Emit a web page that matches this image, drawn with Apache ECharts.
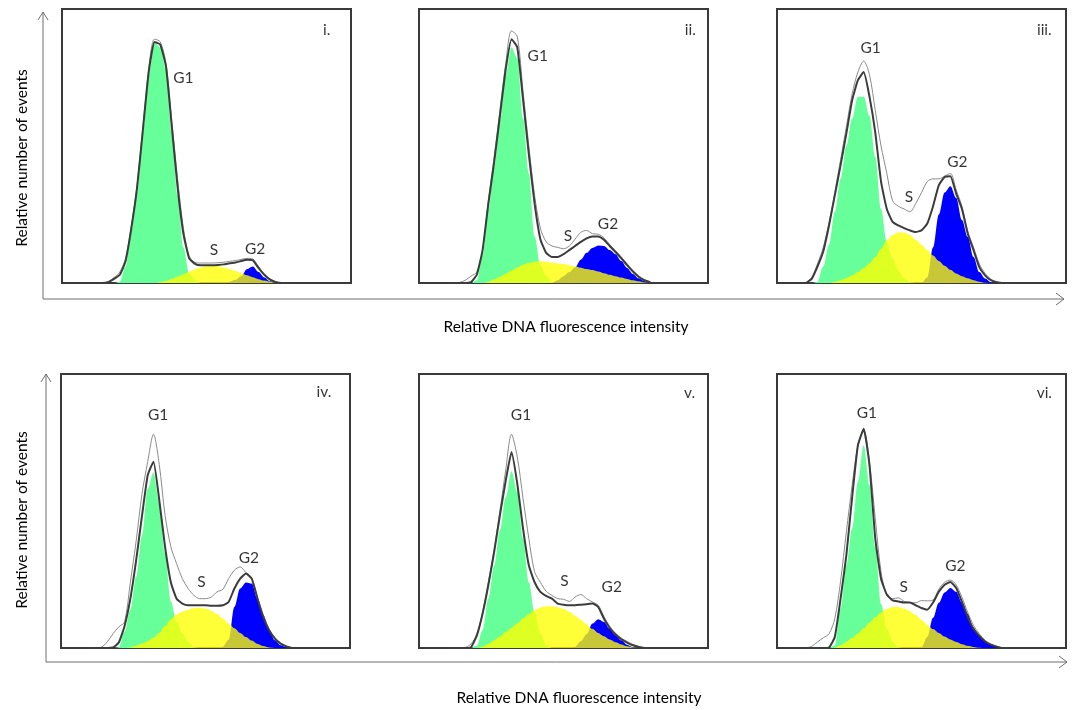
<!DOCTYPE html>
<html>
<head>
<meta charset="utf-8">
<script src="https://cdn.jsdelivr.net/npm/echarts@6/dist/echarts.min.js"></script>
<style>
  html, body { margin: 0; padding: 0; background: #fff; }
  #main { width: 1078px; height: 710px; }
</style>
</head>
<body>
<div id="main"></div>
<script>
// DNA content bins (relative fluorescence, 0-100 across each panel)
const bins = [10, 12, 14, 16, 18, 20, 22, 24, 26, 28, 30, 32, 34, 36, 38, 40, 42, 44, 46, 48, 50, 52, 54, 56, 58, 60, 62, 64, 66, 68, 70, 72, 74, 76, 78, 80]

// panel i.
const g1I = [0, 0, 0, 0, 0, 0.5, 6, 19, 33, 55, 76, 88, 86, 78, 55, 32, 13, 3.5, 1, 0, 0, 0, 0, 0, 0, 0, 0, 0, 0, 0, 0, 0, 0, 0, 0, 0]
const sI = [0, 0, 0, 0, 0, 0, 0, 0, 0, 0, 0, 0, 0.3, 0.8, 1.5, 2.3, 3.2, 4.1, 5, 5.7, 6.1, 6.2, 6.1, 5.7, 5.1, 4.4, 3.6, 2.8, 2.1, 1.4, 0.9, 0.5, 0.2, 0, 0, 0]
const g2I = [0, 0, 0, 0, 0, 0, 0, 0, 0, 0, 0, 0, 0, 0, 0, 0, 0, 0, 0, 0, 0, 0, 0, 0, 0.5, 1.2, 2.5, 5, 6, 4, 2, 0.6, 0, 0, 0, 0]
const thickI = [0, 0, 0, 0.3, 1.5, 3, 8, 20, 35, 56, 77, 88, 87, 79, 57, 35, 18, 9, 7, 6.5, 6.5, 6.5, 6.6, 6.8, 7.2, 7.5, 8, 8.5, 8.3, 5.5, 3, 1.2, 0.3, 0, 0, 0]
const thinI = [0, 0, 0, 0.5, 2, 4, 9, 21, 36, 57, 78, 89, 88, 80, 59, 38, 20, 10, 7.5, 7.3, 7.3, 7.3, 7.4, 7.6, 7.9, 8.2, 8.6, 9, 8.8, 6, 3.2, 1.5, 0.5, 0, 0, 0]
const tagsI = [[42, 74.7, 'G1'], [52.6, 12, 'S'], [66.8, 12.5, 'G2'], [91.6, 92.3, 'i.']]

// panel ii.
const g1II = [0, 0, 0, 0, 0, 1, 10, 27, 42, 59, 76, 86, 82, 60, 40, 17, 6.5, 2.5, 0.5, 0, 0, 0, 0, 0, 0, 0, 0, 0, 0, 0, 0, 0, 0, 0, 0, 0]
const sII = [0, 0, 0, 0, 0, 0, 0, 0.5, 1.3, 2.3, 3.4, 4.6, 5.7, 6.7, 7.4, 7.8, 7.9, 7.8, 7.5, 7.2, 6.9, 6.5, 6.1, 5.6, 5.1, 4.7, 4.2, 3.6, 3, 2.5, 2, 1.5, 1, 0.6, 0.2, 0]
const g2II = [0, 0, 0, 0, 0, 0, 0, 0, 0, 0, 0, 0, 0, 0, 0, 0, 0, 0, 0, 1, 2.5, 4, 5.7, 8.5, 11, 12.8, 13.7, 13.5, 12, 10.5, 8, 5.5, 3.3, 1.7, 0.6, 0]
const thickII = [0, 0, 0, 0, 0.3, 3, 12, 29, 44, 61, 78, 89, 86, 67, 47, 29, 16, 11, 9.5, 9.5, 10.5, 12, 13.5, 15, 16.3, 17, 17, 15.8, 13.5, 11.3, 9, 6.5, 4.2, 2.3, 1, 0.3]
const thinII = [0, 0, 0.2, 1, 2.5, 4, 12, 30, 46, 63, 80, 92, 90, 70, 50, 32, 20, 15, 13.5, 13, 12.5, 13.5, 16, 18.5, 19.2, 18, 17.8, 16.5, 14, 11.8, 9.5, 7, 4.6, 2.6, 1.2, 0.4]
const tagsII = [[41.1, 83, 'G1'], [51.5, 17, 'S'], [65.4, 21.7, 'G2'], [93.9, 92.3, 'ii.']]

// panel iii.
const g1III = [0, 0, 0.5, 6, 14, 26, 38, 50, 60, 68, 68, 61, 46, 27, 15, 9, 4.5, 1.6, 0.3, 0, 0, 0, 0, 0, 0, 0, 0, 0, 0, 0, 0, 0, 0, 0, 0, 0]
const sIII = [0, 0, 0, 0, 0, 0.5, 1, 1.7, 2.8, 4, 5.5, 7.2, 9.5, 12.5, 15.5, 17.5, 18.5, 18.4, 17.5, 15.8, 14, 12, 10, 8, 6.3, 4.8, 3.5, 2.5, 1.7, 1, 0.5, 0.1, 0, 0, 0, 0]
const g2III = [0, 0, 0, 0, 0, 0, 0, 0, 0, 0, 0, 0, 0, 0, 0, 0, 0, 0, 0, 0, 0, 2, 13, 25, 33, 35.3, 31, 23, 16.8, 9.5, 4, 1.6, 0.3, 0, 0, 0]
const thickIII = [0, 1.5, 6, 11.5, 21, 32, 43, 54.6, 66.7, 74, 77, 68, 55, 37, 27, 22.3, 21, 20, 19.2, 18.6, 19.2, 21.7, 28, 35.7, 38.7, 39, 32.6, 27, 18, 12, 5.8, 2.8, 1, 0.3, 0, 0]
const thinIII = [0, 2, 7, 13, 22, 33, 45, 57, 69, 77, 81, 76, 63, 50, 40, 30, 28, 27, 26, 29, 33, 37, 38, 38, 39, 40, 34, 28, 19, 13, 7, 3.5, 1.4, 0.4, 0, 0]
const tagsIII = [[32.4, 85.6, 'G1'], [45.7, 31.4, 'S'], [62.4, 44.2, 'G2'], [92.5, 92.3, 'iii.']]

// panel iv.
const g1IV = [0, 0, 0, 0, 0, 0.3, 6, 14, 26, 41, 58, 64, 53, 34.5, 17, 9.5, 5.2, 2.2, 0.3, 0, 0, 0, 0, 0, 0, 0, 0, 0, 0, 0, 0, 0, 0, 0, 0, 0]
const sIV = [0, 0, 0, 0, 0, 0, 0, 0.2, 0.8, 1.6, 2.6, 3.8, 5.5, 8, 10.5, 12.2, 13.3, 14, 14.6, 14.7, 14.4, 13.6, 12.4, 10.8, 9, 7.2, 5.5, 4, 2.7, 1.5, 0.7, 0.2, 0, 0, 0, 0]
const g2IV = [0, 0, 0, 0, 0, 0, 0, 0, 0, 0, 0, 0, 0, 0, 0, 0, 0, 0, 0, 0, 0, 0, 0, 0.5, 3, 15, 21.7, 23.9, 23.5, 18, 12, 6.5, 2.8, 1, 0.2, 0]
const thickIV = [0, 0, 0, 0, 0.2, 2, 8, 18, 32, 48, 63, 68, 54, 37, 24, 18, 16.2, 15.6, 15.6, 15.6, 15.6, 15.4, 15.4, 15.6, 16.8, 21.7, 25.3, 27.2, 25.3, 18, 11.3, 6.5, 3.4, 1.6, 0.6, 0]
const thinIV = [0, 0, 0.3, 2.2, 5.2, 7.7, 9.5, 24, 39, 56, 68, 78, 67, 48.5, 37, 30.8, 25.3, 21.7, 19.2, 18, 18, 18.6, 20.5, 21.4, 25.3, 28.4, 29.6, 27.5, 25.5, 18.5, 12, 7, 3.8, 1.8, 0.6, 0]
const tagsIV = [[33.6, 85, 'G1'], [48.6, 24, 'S'], [65, 32.9, 'G2'], [91, 93.3, 'iv.']]

// panel v.
const g1V = [0, 0, 0, 0, 0, 0.8, 6.5, 18, 30, 43, 55, 64.5, 57, 40, 24, 13, 5.2, 1, 0, 0, 0, 0, 0, 0, 0, 0, 0, 0, 0, 0, 0, 0, 0, 0, 0, 0]
const sV = [0, 0, 0, 0, 0, 0, 0.5, 1.5, 2.8, 4.2, 5.8, 7.4, 9, 10.8, 12.4, 13.8, 14.8, 15.2, 15.2, 14.9, 14.3, 13.2, 11.8, 10.3, 8.7, 7, 5.5, 4.3, 3.1, 2.1, 1.3, 0.6, 0.2, 0, 0, 0]
const g2V = [0, 0, 0, 0, 0, 0, 0, 0, 0, 0, 0, 0, 0, 0, 0, 0, 0, 0, 0, 0, 0, 0, 0.5, 2.5, 5, 8.9, 10.5, 9.5, 7, 4.6, 2.8, 1.2, 0.3, 0, 0, 0]
const thickV = [0, 0, 0, 0, 0.3, 4.5, 12.5, 23, 35, 48.5, 61, 71.5, 60, 43.6, 30.2, 24, 20.5, 19, 18, 16.2, 15.8, 15.6, 15.6, 15.8, 16, 16.2, 15, 10.7, 7.3, 4.9, 3.2, 2, 1, 0.4, 0, 0]
const thinV = [0, 0, 0, 0.2, 1.5, 5, 13, 24, 36, 50, 65, 78, 69.8, 54.6, 40, 27.8, 24, 20.7, 19.2, 18, 17.8, 17, 18.6, 19.5, 18, 16.8, 15.6, 11.5, 7.9, 5.4, 3.6, 2.4, 1.3, 0.6, 0.2, 0]
const tagsV = [[35.3, 85, 'G1'], [50.3, 24.4, 'S'], [66.7, 22.3, 'G2'], [93.6, 93, 'v.']]

// panel vi.
const g1VI = [0, 0, 0, 0, 0, 1, 14.4, 30.2, 43.6, 60.7, 74, 59.4, 37, 16, 7, 2.2, 0.3, 0, 0, 0, 0, 0, 0, 0, 0, 0, 0, 0, 0, 0, 0, 0, 0, 0, 0, 0]
const sVI = [0, 0, 0, 0, 0, 0.1, 1, 2.3, 3.7, 5.3, 7.2, 9.2, 11.3, 13, 14.3, 15, 15, 14.4, 13.4, 12, 10.2, 8.5, 6.9, 5.5, 4.2, 3.1, 2.2, 1.4, 0.8, 0.4, 0.1, 0, 0, 0, 0, 0]
const g2VI = [0, 0, 0, 0, 0, 0, 0, 0, 0, 0, 0, 0, 0, 0, 0, 0, 0, 0, 0, 0, 0.3, 4, 11, 16.5, 20.3, 21.9, 20.5, 16.5, 12.5, 7.2, 4.5, 2.5, 1.2, 0.4, 0, 0]
const thickVI = [0, 0, 0, 0, 0.2, 4, 18, 33.9, 55, 74, 80, 66.7, 40, 25.3, 19.5, 17.4, 17, 16.6, 16.6, 15.6, 14.6, 14, 16.6, 20.5, 23.1, 24.1, 21.9, 16.8, 11.3, 7, 4.4, 2.4, 1.2, 0.5, 0, 0]
const thinVI = [0, 0.6, 2.2, 3.7, 5.2, 10.7, 24.4, 42.4, 59.4, 74, 79.5, 68, 47.3, 27.8, 19.2, 18, 18.3, 17, 16.6, 16.5, 17.3, 17.2, 17.5, 21.5, 24, 24.8, 23, 18.5, 13, 8.3, 5.2, 2.8, 1.4, 0.6, 0.1, 0]
const tagsVI = [[31.1, 85.6, 'G1'], [43.8, 22.3, 'S'], [61.7, 29.8, 'G2'], [92.5, 93, 'vi.']]

const yTitle = 'Relative number of events'
const xTitle = 'Relative DNA fluorescence intensity'

const panels = [
  { g1: g1I, s: sI, g2: g2I, thick: thickI, thin: thinI, tags: tagsI, left: 62, top: 9 },
  { g1: g1II, s: sII, g2: g2II, thick: thickII, thin: thinII, tags: tagsII, left: 419, top: 9 },
  { g1: g1III, s: sIII, g2: g2III, thick: thickIII, thin: thinIII, tags: tagsIII, left: 777, top: 9 },
  { g1: g1IV, s: sIV, g2: g2IV, thick: thickIV, thin: thinIV, tags: tagsIV, left: 61, top: 374 },
  { g1: g1V, s: sV, g2: g2V, thick: thickV, thin: thinV, tags: tagsV, left: 419, top: 374 },
  { g1: g1VI, s: sVI, g2: g2VI, thick: thickVI, thin: thinVI, tags: tagsVI, left: 777, top: 374 }
]

const font = 'Lato, "Open Sans", sans-serif'
const pairs = (vals) => bins.map((b, i) => [b, vals[i]])

const grid = []
const xAxis = []
const yAxis = []
const series = []

panels.forEach((p, k) => {
  grid.push({
    left: p.left, top: p.top, width: 289, height: 274,
    show: true, borderColor: '#3a3a3a', borderWidth: 2, backgroundColor: '#fff'
  })
  xAxis.push({ gridIndex: k, type: 'value', min: 0, max: 100, show: false })
  yAxis.push({ gridIndex: k, type: 'value', min: 0, max: 100, show: false })

  const area = (name, vals, color, opacity, z) => ({
    name: name,
    type: 'line',
    xAxisIndex: k,
    yAxisIndex: k,
    data: pairs(vals),
    smooth: 0.35,
    smoothMonotone: 'x',
    symbol: 'none',
    lineStyle: { width: 0 },
    areaStyle: { color: color, opacity: opacity, origin: 'start' },
    z: z,
    silent: true
  })
  series.push(area('G1', p.g1, '#66ff99', 1, 1))
  series.push(area('G2', p.g2, '#0000ff', 1, 2))
  series.push(area('S', p.s, '#ffff00', 0.78, 3))

  series.push({
    type: 'line',
    xAxisIndex: k,
    yAxisIndex: k,
    data: pairs(p.thin),
    smooth: 0.3,
    symbol: 'none',
    lineStyle: { color: '#8a8a8a', width: 1 },
    z: 4,
    silent: true
  })
  series.push({
    type: 'line',
    xAxisIndex: k,
    yAxisIndex: k,
    data: pairs(p.thick),
    smooth: 0.15,
    symbol: 'none',
    lineStyle: { color: '#3c3c3c', width: 2 },
    z: 5,
    silent: true
  })
  series.push({
    type: 'scatter',
    xAxisIndex: k,
    yAxisIndex: k,
    data: p.tags,
    symbolSize: 1,
    itemStyle: { color: 'rgba(0,0,0,0)' },
    label: {
      show: true,
      position: 'inside',
      formatter: (d) => d.data[2],
      fontFamily: font,
      fontSize: 15.5,
      color: '#000'
    },
    z: 6,
    silent: true
  })
})

// outer arrows and axis titles for the two rows
const arrowStyle = { stroke: '#6e6e6e', lineWidth: 1, fill: null }
const rowAxes = (ax, top, bottom, right) => [
  { type: 'polyline', shape: { points: [[ax, top], [ax, bottom], [right, bottom]] }, style: arrowStyle },
  { type: 'polyline', shape: { points: [[ax - 5, top + 8], [ax, top], [ax + 5, top + 8]] }, style: arrowStyle },
  { type: 'polyline', shape: { points: [[right - 8, bottom - 6], [right, bottom], [right - 8, bottom + 6]] }, style: arrowStyle }
]
const titleText = (text, x, y, rot) => ({
  type: 'text',
  x: x,
  y: y,
  rotation: rot,
  style: {
    text: text,
    fill: '#000',
    font: '15.5px ' + font,
    textAlign: 'center',
    textVerticalAlign: 'middle'
  }
})

const graphic = [].concat(
  rowAxes(43, 12, 299, 1064),
  rowAxes(46, 374, 662, 1067),
  [
    titleText(yTitle, 22, 158, Math.PI / 2),
    titleText(yTitle, 22, 520, Math.PI / 2),
    titleText(xTitle, 566, 327, 0),
    titleText(xTitle, 579, 698, 0)
  ]
)

const myChart = echarts.init(document.getElementById('main'))
myChart.setOption({
  animation: false,
  backgroundColor: '#fff',
  grid: grid,
  xAxis: xAxis,
  yAxis: yAxis,
  series: series,
  graphic: graphic
})
window.addEventListener('resize', () => {
  myChart.resize()
})
</script>
</body>
</html>
